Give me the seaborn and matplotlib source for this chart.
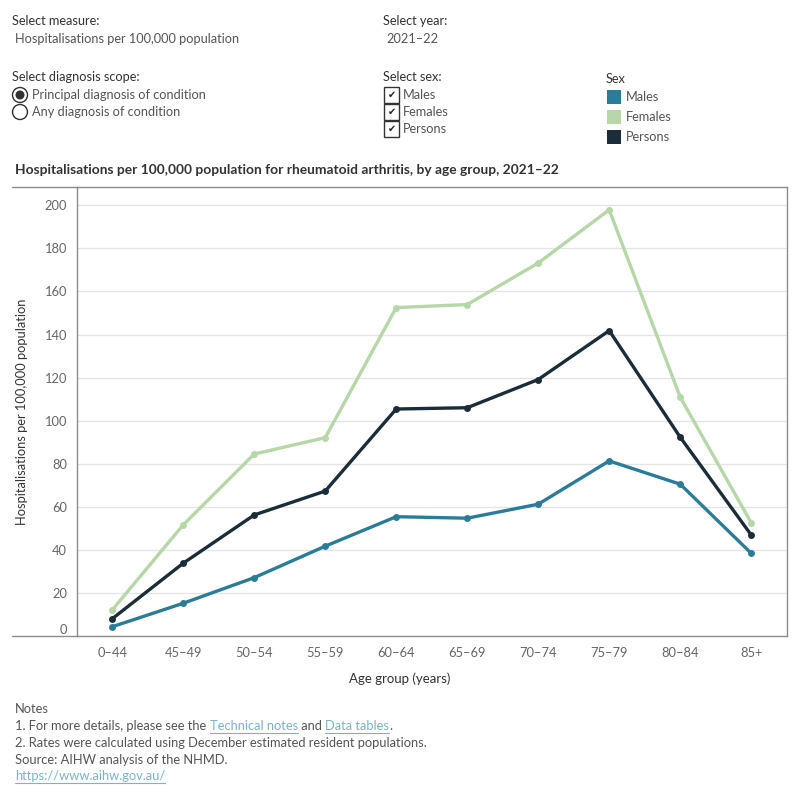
import matplotlib
matplotlib.use("Agg")
import matplotlib.pyplot as plt
import matplotlib.patches as mpatches
from matplotlib.lines import Line2D
import pandas as pd
import seaborn as sns

# data
age_groups = ["0–44", "45–49", "50–54", "55–59", "60–64", "65–69", "70–74", "75–79", "80–84", "85+"]
males = [4.3, 15.2, 27.1, 41.7, 55.4, 54.7, 61.2, 81.3, 70.5, 38.4]
females = [12.1, 51.6, 84.5, 92.1, 152.5, 153.9, 173.2, 197.9, 110.9, 52.6]
persons = [8.0, 33.8, 56.2, 67.3, 105.4, 106.0, 119.1, 141.8, 92.3, 46.9]
y_ticks = [0, 20, 40, 60, 80, 100, 120, 140, 160, 180, 200]

sexes = ["Males", "Females", "Persons"]
colours = {"Males": "#2b7c99", "Females": "#b6d7a8", "Persons": "#1b2d38"}

rows = []
for sex, vals in zip(sexes, [males, females, persons]):
    for i, (age, v) in enumerate(zip(age_groups, vals)):
        rows.append({"age": age, "pos": i, "rate": v, "sex": sex})
df = pd.DataFrame(rows)

sns.set_style("white")
plt.rcParams["font.family"] = ["Lato", "DejaVu Sans"]

fig = plt.figure(figsize=(8, 8), dpi=100)
ax = fig.add_axes([0.0959, 0.205, 0.8875, 0.561])

sns.lineplot(data=df, x="pos", y="rate", hue="sex", hue_order=sexes, palette=colours,
             marker="o", markersize=5, markeredgewidth=0, linewidth=2.4, ax=ax, legend=False)

ax.set_xlim(-0.5, len(age_groups) - 0.5)
ax.set_ylim(0, 208.4)
ax.set_xticks(range(len(age_groups)))
ax.set_xticklabels(age_groups)
ax.set_yticks(y_ticks)
ax.set_yticklabels([str(t) for t in y_ticks])
ax.tick_params(axis="both", length=0, labelsize=9.3, labelcolor="#666666")
ax.tick_params(axis="x", pad=8)
ax.tick_params(axis="y", pad=7)
ax.get_yticklabels()[0].set_va("bottom")
ax.grid(axis="y", color="#e4e4e4", linewidth=0.9)
ax.set_axisbelow(True)
for s in ax.spines.values():
    s.set_color("#8c8c8c")
    s.set_linewidth(1.0)
ax.set_xlabel("")
ax.set_ylabel("Hospitalisations per 100,000 population", fontsize=9.3, color="#333333")
ax.yaxis.set_label_coords(-0.068, 0.5)

# outer frame lines extending to the left edge
fig.add_artist(Line2D([12 / 800, 0.0959], [1 - 187.3 / 800] * 2, color="#8c8c8c", lw=1.0))
fig.add_artist(Line2D([12 / 800, 0.0959], [1 - 636 / 800] * 2, color="#8c8c8c", lw=1.0))

fig.text(400 / 800, 1 - 679 / 800, "Age group (years)", fontsize=9.5, color="#333333",
         ha="center", va="center")

# title
fig.text(15 / 800, 1 - 170 / 800, "Hospitalisations per 100,000 population for rheumatoid arthritis, by age group, 2021–22",
         fontsize=9.9, fontweight="bold", color="#333333", va="center")

# filter panel
dark = "#333333"
grey = "#555555"
fs = 9.2
fig.text(12 / 800, 1 - 21 / 800, "Select measure:", fontsize=fs, color=dark, va="center")
fig.text(15 / 800, 1 - 39 / 800, "Hospitalisations per 100,000 population", fontsize=fs, color=grey, va="center")
fig.text(383 / 800, 1 - 21 / 800, "Select year:", fontsize=fs, color=dark, va="center")
fig.text(386 / 800, 1 - 39 / 800, "2021–22", fontsize=fs, color=grey, va="center")

fig.text(12 / 800, 1 - 77 / 800, "Select diagnosis scope:", fontsize=fs, color=dark, va="center")
radio_opts = ["Principal diagnosis of condition", "Any diagnosis of condition"]
for j, opt in enumerate(radio_opts):
    yc = 1 - (95 + 17 * j) / 800
    fig.add_artist(mpatches.Ellipse((20 / 800, yc), 15 / 800, 15 / 800, facecolor="white",
                                    edgecolor="#333333", lw=1.0))
    if j == 0:
        fig.add_artist(mpatches.Ellipse((20 / 800, yc), 9 / 800, 9 / 800, facecolor="#333333", lw=0))
    fig.text(32 / 800, yc, opt, fontsize=fs, color=grey, va="center")

fig.text(383 / 800, 1 - 77 / 800, "Select sex:", fontsize=fs, color=dark, va="center")
for j, sex in enumerate(sexes):
    yc = 1 - (95 + 17 * j) / 800
    fig.add_artist(mpatches.Rectangle((384 / 800, yc - 8 / 800), 15 / 800, 16 / 800,
                                      facecolor="white", edgecolor="#333333", lw=1.0))
    fig.text(391.5 / 800, yc, "✔", fontsize=7, color="#222222", ha="center", va="center",
             family=["DejaVu Sans"])
    fig.text(403 / 800, yc, sex, fontsize=fs, color=grey, va="center")

fig.text(606 / 800, 1 - 79 / 800, "Sex", fontsize=fs, color=dark, va="center")
for j, sex in enumerate(sexes):
    yc = 1 - (97 + 20 * j) / 800
    fig.add_artist(mpatches.Rectangle((607 / 800, yc - 7 / 800), 14 / 800, 14 / 800,
                                      facecolor=colours[sex], lw=0))
    fig.text(626 / 800, yc, sex, fontsize=fs, color=grey, va="center")

# notes
note_col = "#555555"
link_col = "#7ab3cc"
fig.canvas.draw()
renderer = fig.canvas.get_renderer()


def text_run(x_px, y_px, pieces):
    x = x_px / 800
    for txt, col, underline in pieces:
        t = fig.text(x, 1 - y_px / 800, txt, fontsize=9.3, color=col, va="center")
        bb = t.get_window_extent(renderer=renderer)
        if underline:
            fig.add_artist(Line2D([bb.x0 / 800, bb.x1 / 800], [(bb.y0 - 1) / 800] * 2,
                                  color=col, lw=0.8))
        x = bb.x1 / 800


text_run(15, 709, [("Notes", note_col, False)])
text_run(15, 726, [("1. For more details, please see the ", note_col, False),
                   ("Technical notes", link_col, True),
                   (" and ", note_col, False),
                   ("Data tables", link_col, True),
                   (".", note_col, False)])
text_run(15, 743, [("2. Rates were calculated using December estimated resident populations.", note_col, False)])
text_run(15, 760, [("Source: AIHW analysis of the NHMD.", note_col, False)])
text_run(15, 776, [("https://www.aihw.gov.au/", link_col, True)])

fig.savefig("out.png", dpi=100)
